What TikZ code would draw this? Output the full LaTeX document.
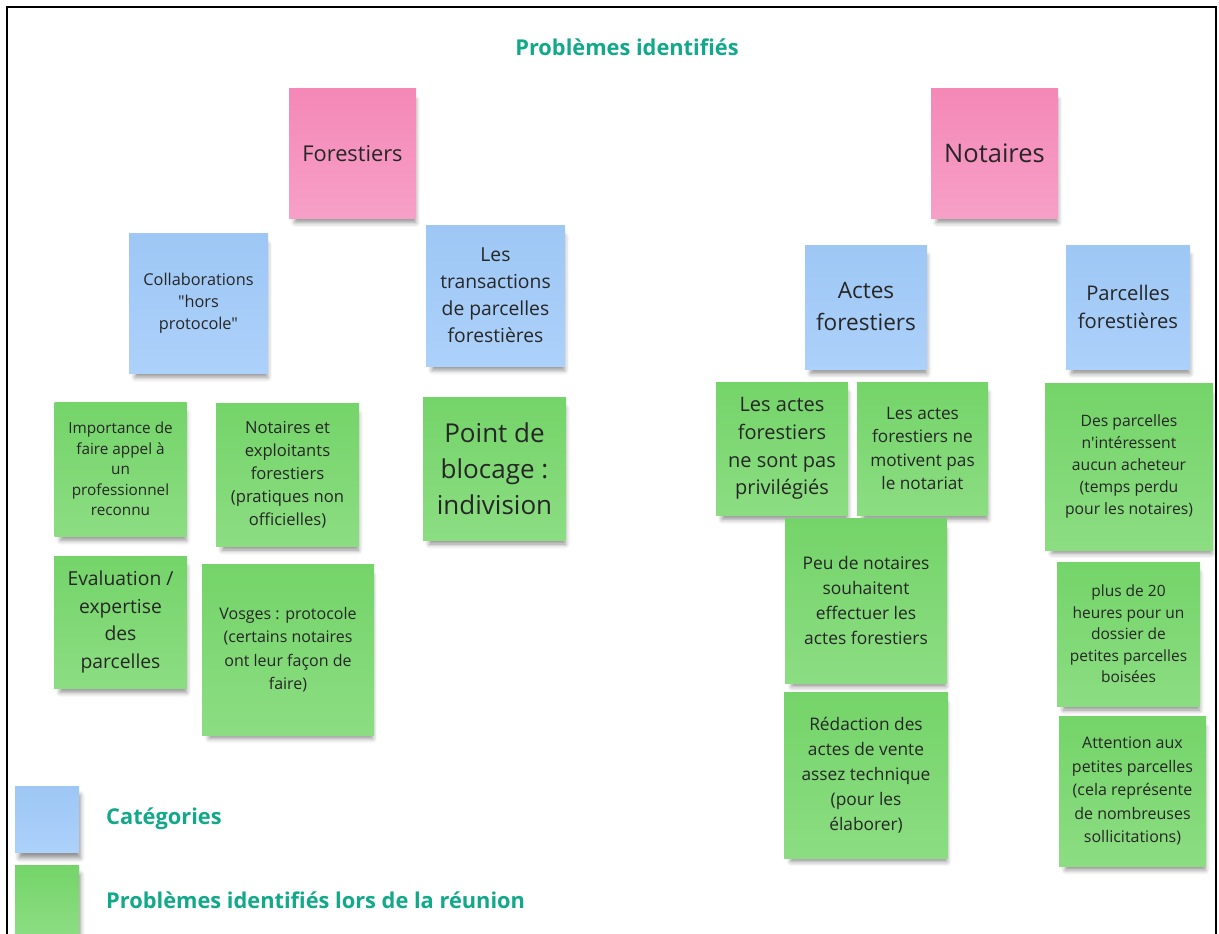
\documentclass[tikz,border=0pt]{standalone}
\usepackage{fontspec}
\setmainfont{Open Sans}[Ligatures=TeXOff]
\usetikzlibrary{shadows.blur}

\definecolor{rose1}{RGB}{244,136,183}
\definecolor{rose2}{RGB}{247,160,199}
\definecolor{bleu1}{RGB}{158,199,245}
\definecolor{bleu2}{RGB}{172,209,250}
\definecolor{vert1}{RGB}{116,212,105}
\definecolor{vert2}{RGB}{140,221,130}
\definecolor{sarcelle}{RGB}{18,168,138}
\definecolor{encre}{RGB}{38,38,38}

\begin{document}
\begin{tikzpicture}[x=1pt, y=-1pt,
    postit/.style={inner sep=0pt, align=center, text=encre,
      blur shadow={shadow xshift=3pt, shadow yshift=-8pt, shadow scale=0.95,
        shadow blur radius=5pt, shadow opacity=45}},
    theme/.style={postit, top color=rose1, bottom color=rose2},
    categorie/.style={postit, top color=bleu1, bottom color=bleu2},
    probleme/.style={postit, top color=vert1, bottom color=vert2},
    titre/.style={inner sep=0pt, text=sarcelle, font=\bfseries\fontsize{21.8}{26}\selectfont}]
  \useasboundingbox (0,0) rectangle (1219,934);

  % Cadre (ouvert en bas)
  \draw[line width=2pt] (7,934) -- (7,7) -- (1216,7) -- (1216,934);

  % Titre
  \node[titre] (titre) at (627,47) {Problèmes identifiés};

  % Thèmes
  \node[theme, minimum width=127pt, minimum height=129pt, font=\fontsize{21.8}{26}\selectfont] (forestiers) at (352.5,153.5) {Forestiers};
  \node[theme, minimum width=127pt, minimum height=129pt, font=\fontsize{25.5}{30}\selectfont] (notaires) at (994.5,153.5) {Notaires};

  % Catégories
  \node[categorie, minimum width=139pt, minimum height=140pt, font=\fontsize{16.3}{22}\selectfont] (collab) at (198.5,303) {Collaborations\\"hors\\protocole"};
  \node[categorie, minimum width=139pt, minimum height=141pt, font=\fontsize{19.3}{27}\selectfont] (transactions) at (495.5,295.5) {Les\\transactions\\de parcelles\\forestières};
  \node[categorie, minimum width=122pt, minimum height=124pt, font=\fontsize{22.6}{32}\selectfont] (actes) at (866,307) {Actes\\forestiers};
  \node[categorie, minimum width=124pt, minimum height=124pt, font=\fontsize{20.2}{28}\selectfont] (parcelles) at (1128,307) {Parcelles\\forestières};

  % Problèmes : forestiers
  \node[probleme, minimum width=132pt, minimum height=134pt, font=\fontsize{15.3}{20.5}\selectfont] (importance) at (120.5,469) {Importance de\\faire appel à\\un\\professionnel\\reconnu};
  \node[probleme, minimum width=143pt, minimum height=143pt, font=\fontsize{16.6}{23}\selectfont] (pratiques) at (287.5,474.5) {Notaires et\\exploitants\\forestiers\\(pratiques non\\officielles)};
  \node[probleme, minimum width=143pt, minimum height=143pt, font=\fontsize{26}{36}\selectfont] (indivision) at (494.5,468.5) {Point de\\blocage :\\indivision};
  \node[probleme, minimum width=133pt, minimum height=132pt, font=\fontsize{19.3}{27.7}\selectfont] (evaluation) at (120.5,622) {Evaluation /\\expertise\\des\\parcelles};
  \node[probleme, minimum width=172pt, minimum height=171pt, font=\fontsize{16}{23.5}\selectfont] (vosges) at (288,649.5) {Vosges : protocole\\(certains notaires\\ont leur façon de\\faire)};

  % Problèmes : notaires
  \node[probleme, minimum width=132pt, minimum height=133pt, font=\fontsize{20}{27.7}\selectfont] (privilegies) at (782,448.5) {Les actes\\forestiers\\ne sont pas\\privilégiés};
  \node[probleme, minimum width=131pt, minimum height=133pt, font=\fontsize{17.2}{23.3}\selectfont] (motivent) at (922.5,448.5) {Les actes\\forestiers ne\\motivent pas\\le notariat};
  \node[probleme, minimum width=168pt, minimum height=167pt, font=\fontsize{15.7}{22}\selectfont] (acheteur) at (1129,466.5) {Des parcelles\\n'intéressent\\aucun acheteur\\(temps perdu\\pour les notaires)};
  \node[probleme, minimum width=162pt, minimum height=165pt, font=\fontsize{17.4}{24.7}\selectfont] (souhaitent) at (866,600.5) {Peu de notaires\\souhaitent\\effectuer les\\actes forestiers};
  \node[probleme, minimum width=143pt, minimum height=144pt, font=\fontsize{15.5}{21.5}\selectfont] (heures) at (1128.5,634) {plus de 20\\heures pour un\\dossier de\\petites parcelles\\boisées};
  \node[probleme, minimum width=164pt, minimum height=166pt, font=\fontsize{17.3}{25}\selectfont] (redaction) at (866,775) {Rédaction des\\actes de vente\\assez technique\\(pour les\\élaborer)};
  \node[probleme, minimum width=147pt, minimum height=150pt, font=\fontsize{16}{23.5}\selectfont] (sollicitations) at (1132.5,791) {Attention aux\\petites parcelles\\(cela représente\\de nombreuses\\sollicitations)};

  % Légende
  \node[categorie, minimum width=64pt, minimum height=66pt] (legcat) at (47,819) {};
  \node[titre, anchor=west] (txtcat) at (106,819) {Catégories};
  \node[probleme, minimum width=64pt, minimum height=68pt] (legprob) at (47,899) {};
  \node[titre, anchor=west] (txtprob) at (106,900) {Problèmes identifiés lors de la réunion};
\end{tikzpicture}
\end{document}
